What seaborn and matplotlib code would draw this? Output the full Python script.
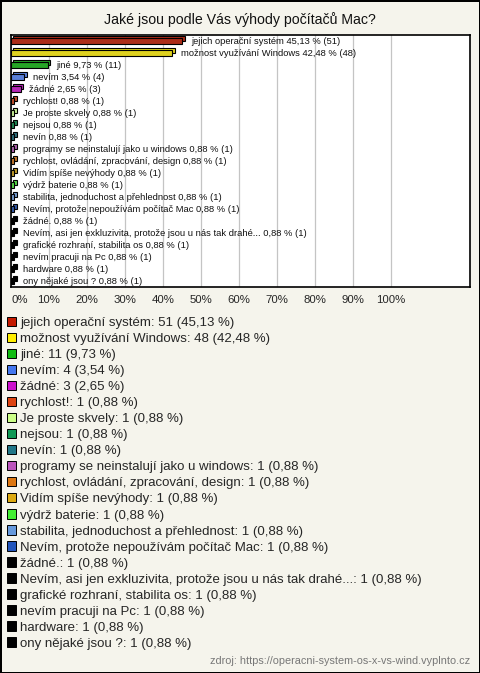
import matplotlib
matplotlib.use("Agg")
import matplotlib.pyplot as plt
import matplotlib.patheffects as pe
from matplotlib.patches import Patch
import pandas as pd
import seaborn as sns

# survey answers
categories = [
    "jejich operační systém", "možnost využívání Windows", "jiné", "nevím", "žádné",
    "rychlost!", "Je proste skvely", "nejsou", "nevín",
    "programy se neinstalují jako u windows", "rychlost, ovládání, zpracování, design",
    "Vidím spíše nevýhody", "výdrž baterie", "stabilita, jednoduchost a přehlednost",
    "Nevím, protože nepoužívám počítač Mac", "žádné.",
    "Nevím, asi jen exkluzivita, protože jsou u nás tak drahé...",
    "grafické rozhraní, stabilita os", "nevím pracuji na Pc", "hardware", "ony nějaké jsou ?",
]
counts = [51, 48, 11, 4, 3] + [1] * 16
percents = [45.13, 42.48, 9.73, 3.54, 2.65] + [0.88] * 16
colors = [
    "#c41a00", "#ffee00", "#11bb11", "#4477ee", "#cc11cc",
    "#dd4411", "#ccff88", "#119955", "#227788", "#bb55bb",
    "#dd7711", "#ddaa11", "#44ee33", "#6699dd", "#2255bb",
] + ["#000000"] * 6
x_ticks = [0, 10, 20, 30, 40, 50, 60, 70, 80, 90, 100]

bg = "#f5f4ec"

df = pd.DataFrame({"category": categories, "count": counts, "pct": percents})

def fmt(v):
    return f"{v:.2f}".replace(".", ",")

sns.set_theme(style="white")
plt.rcParams["font.family"] = ["Liberation Sans", "DejaVu Sans"]

fig = plt.figure(figsize=(4.8, 6.73), dpi=100, facecolor=bg)
fig.patch.set_edgecolor("black")
fig.patch.set_linewidth(2)

ax = fig.add_axes([11 / 480, (673 - 287) / 673, 459 / 480, 252 / 673])
ax.set_facecolor("white")

sns.barplot(data=df, x="pct", y="category", hue="category", palette=colors,
            orient="h", width=0.42, edgecolor="black", linewidth=0.8,
            legend=False, ax=ax, zorder=3)

# fake 3D depth like the original
for patch in ax.patches:
    patch.set_path_effects([
        pe.Stroke(offset=(1.6, 1.6), foreground="black", linewidth=0.8),
        pe.Normal(),
    ])

for i, cont in enumerate(ax.containers):
    lab = f"{categories[i]} {fmt(percents[i])} % ({counts[i]})"
    ax.bar_label(cont, labels=[lab], padding=6, fontsize=6.75, color="#111111")

ax.set_xlim(0, 120.8)
ax.set_xticks(x_ticks)
ax.set_xticklabels([f"{t}%" for t in x_ticks], fontsize=8.2)
ax.get_xticklabels()[0].set_horizontalalignment("left")
ax.tick_params(axis="x", length=0, pad=6)
ax.set_yticks([])
ax.set_xlabel("")
ax.set_ylabel("")
ax.grid(axis="x", color="#c4c4c4", linewidth=0.9, zorder=0)
ax.set_axisbelow(True)
for s in ax.spines.values():
    s.set_color("black")
    s.set_linewidth(1.2)

fig.text(0.5, 1 - 20 / 673, "Jaké jsou podle Vás výhody počítačů Mac?",
         ha="center", va="center", fontsize=10.2, color="#111111")

handles = [Patch(facecolor=c, edgecolor="black", linewidth=0.7) for c in colors]
labels = [f"{c}: {n} ({fmt(p)} %)" for c, n, p in zip(categories, counts, percents)]
fig.legend(handles, labels, loc="upper left", bbox_to_anchor=(7 / 480, 1 - 317 / 673),
           frameon=False, fontsize=9.5, handlelength=0.7, handleheight=0.7,
           handletextpad=0.3, labelspacing=0.287, borderaxespad=0, borderpad=0)

fig.text(470 / 480, 1 - 661 / 673,
         "zdroj: https://operacni-system-os-x-vs-wind.vyplnto.cz",
         ha="right", va="center", fontsize=7.8, color="#777777")

fig.savefig("out.png", dpi=100, facecolor=bg, edgecolor="black")
